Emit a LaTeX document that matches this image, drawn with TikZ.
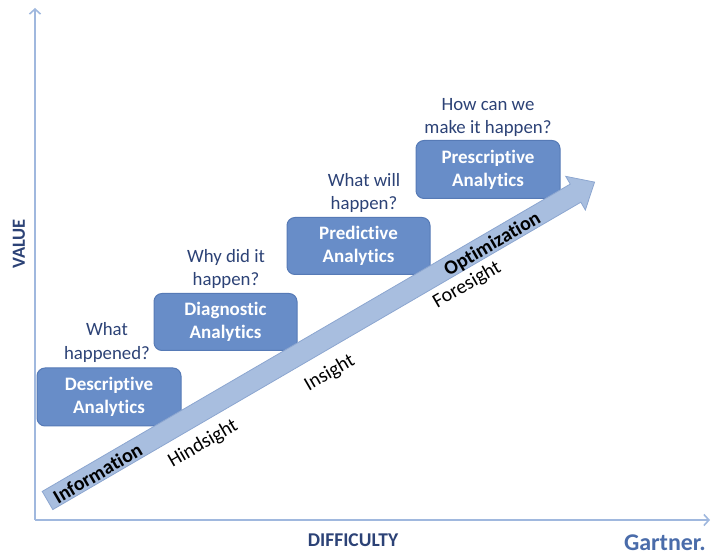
\documentclass[tikz,border=0pt]{standalone}
\usepackage{fontspec}
\setmainfont{Carlito}[Ligatures=NoCommon]
\usetikzlibrary{arrows.meta}
\definecolor{boxfill}{RGB}{104,141,200}
\definecolor{boxline}{RGB}{86,122,182}
\definecolor{arrfill}{RGB}{168,190,223}
\definecolor{arrline}{RGB}{140,166,208}
\definecolor{qtext}{RGB}{44,66,118}
\definecolor{axcol}{RGB}{160,184,222}
\definecolor{gartner}{RGB}{74,108,170}
\tikzset{
  stagebox/.style={rounded corners=8pt, fill=boxfill, draw=boxline, line width=1pt,
    minimum width=144pt, minimum height=58pt, text=white, align=center,
    font=\fontsize{19}{23}\selectfont\bfseries},
  question/.style={text=qtext, align=center, font=\fontsize{18.8}{23.5}\selectfont},
  axisline/.style={draw=axcol, line width=1.6pt, -{Straight Barb[length=5pt,width=11pt,line width=1.6pt]}},
  axlabel/.style={text=qtext, font=\fontsize{19.5}{22}\selectfont\bfseries},
  bigarrow/.style={fill=arrfill, draw=arrline, line width=0.8pt},
  arrtext/.style={rotate=30.2, font=\fontsize{20}{22}\selectfont, text=black},
  arrbold/.style={arrtext, font=\fontsize{20}{22}\selectfont\bfseries}
}
\begin{document}
\begin{tikzpicture}[x=1pt,y=1pt]
\useasboundingbox (0,0) rectangle (712,554);
% axes
\coordinate (origin) at (35,34);
\coordinate (ytop) at (35,546);
\coordinate (xend) at (710,34);
\draw[axisline] (origin) -- (ytop);
\draw[axisline] (origin) -- (xend);
\node[axlabel, font=\fontsize{18.5}{22}\selectfont\bfseries, rotate=90] (value) at (19,310) {VALUE};
\node[axlabel] (difficulty) at (353,14) {DIFFICULTY};
\node[text=gartner, font=\fontsize{24}{26}\selectfont\bfseries, anchor=east, inner sep=1pt] (gartner) at (707,11) {Gartner.};
% boxes
\node[stagebox] (desc) at (109,157) {Descriptive\\Analytics};
\node[stagebox, minimum width=143pt, minimum height=57pt] (diag) at (225.5,232) {Diagnostic\\Analytics};
\node[stagebox, minimum width=143pt, minimum height=57pt] (pred) at (358.5,308) {Predictive\\Analytics};
\node[stagebox] (presc) at (488,384.5) {Prescriptive\\Analytics};
% questions
\node[question] (q1) at (107,211.5) {What\\happened?};
\node[question] (q2) at (226,285) {Why did it\\happen?};
\node[question] (q3) at (364,361) {What will\\happen?};
\node[question] (q4) at (488,436.5) {How can we\\make it happen?};
% big arrow
\begin{scope}[shift={(47.5,53.5)}, rotate=30.2]
\draw[bigarrow] (0,-10.5) -- (611,-10.5) -- (611,-19.5) -- (633,0) -- (611,19.5) -- (611,10.5) -- (0,10.5) -- cycle;
\node[arrbold] (info) at (57,-1.5) {Information};
\node[arrtext] (hind) at (163,-29.4) {Hindsight};
\node[arrtext] (ins) at (308,-31.9) {Insight};
\node[arrbold] (opt) at (513.5,-2.5) {Optimization};
\node[arrtext] (fore) at (471,-24.8) {Foresight};
\end{scope}
\end{tikzpicture}
\end{document}
